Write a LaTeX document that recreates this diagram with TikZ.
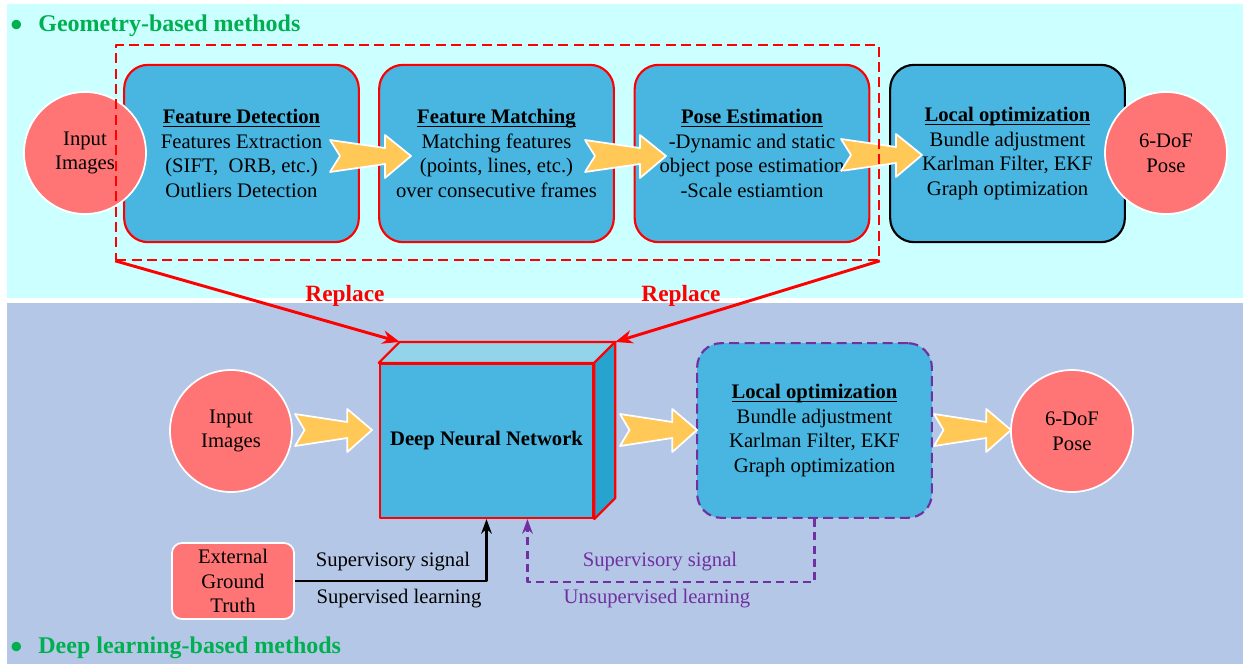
\documentclass[tikz,border=0pt]{standalone}
\usepackage{amsmath}
\usepackage{fontspec}
\setmainfont{Liberation Serif}
\usetikzlibrary{arrows.meta,calc}
\definecolor{bgtop}{RGB}{204,255,255}
\definecolor{bgbot}{RGB}{180,199,231}
\definecolor{boxblue}{RGB}{72,182,224}
\definecolor{salmon}{RGB}{255,117,117}
\definecolor{gold}{RGB}{255,200,87}
\definecolor{titlegreen}{RGB}{0,176,80}
\definecolor{purp}{RGB}{112,48,160}
\definecolor{dnntop}{RGB}{146,213,234}
\definecolor{dnnside}{RGB}{38,163,207}
\begin{document}
\begin{tikzpicture}[x=0.75pt,y=-0.75pt,line join=round,
  font=\fontsize{15.5}{18.4}\selectfont,
  box/.style={draw=red,line width=1.6pt,fill=boxblue,rounded corners=18pt,
    minimum width=176pt,minimum height=133pt,align=center,inner sep=0pt},
  ball/.style={circle,draw=white,line width=1.3pt,fill=salmon,
    minimum size=91.5pt,inner sep=0pt,align=center},
  yarrow/.style={draw=white,line width=1.3pt,fill=gold},
  sectitle/.style={text=titlegreen,font=\fontsize{18}{20}\selectfont\bfseries,
    anchor=base west,inner sep=0pt},
  replace/.style={text=red,font=\fontsize{17.5}{20}\selectfont\bfseries},
  redarrow/.style={red,line width=2.2pt,-{Stealth[length=13pt,width=10pt]}}]
\newcommand{\boxtitle}[1]{\underline{\smash[b]{\textbf{#1}}}}
\newcommand{\bigdot}{\raisebox{-4pt}{\fontsize{26}{20}\selectfont\textbullet}}
\newcommand{\drawarrow}[3]{% tail x, centre y, length
  \begin{scope}[shift={(#1,#2)},xscale=#3/81]
    \draw[yarrow] (0,-16) -- (55,-8) -- (55,-21) -- (81,0) -- (55,22)
      -- (55,8) -- (0,16) -- (10,0) -- cycle;
  \end{scope}}
\useasboundingbox (0,0) rectangle (1243,664);
% Hintergrund
\fill[bgtop] (7,4) rectangle (1243,298);
\fill[bgbot] (7,303) rectangle (1243,664);
\node[sectitle] (geotitle) at (10,31) {\bigdot\hspace{12pt}Geometry-based methods};
\node[sectitle] (dltitle) at (10,653) {\bigdot\hspace{12pt}Deep learning-based methods};
% Obere Reihe
\node[box] (fd) at (241.5,153.5) {\boxtitle{Feature Detection}\\Features Extraction\\(SIFT,\ \ ORB, etc.)\\Outliers Detection};
\node[box] (fm) at (496.5,153.5) {\boxtitle{Feature Matching}\\Matching features\\(points, lines, etc.)\\over consecutive frames};
\node[box] (pe) at (752,153.5) {\boxtitle{Pose Estimation}\\-Dynamic and static\\object pose estimation\\-Scale estiamtion};
\node[box,draw=black] (lo) at (1007.5,153.5) {\boxtitle{Local optimization}\\Bundle adjustment\\Karlman Filter, EKF\\Graph optimization};
\drawarrow{330}{156}{81}
\drawarrow{585}{156}{81}
\drawarrow{841}{155}{81}
\node[ball] (in1) at (85,153) {Input\\Images};
\node[ball] (out1) at (1166,153) {6-DoF\\Pose};
\node[draw=red,line width=1.5pt,dash pattern=on 7.5pt off 4pt,
  minimum width=572pt,minimum height=161pt] (geo) at (497.5,152.5) {};
% Untere Reihe
\node[draw=red,line width=1.6pt,fill=boxblue,minimum width=160pt,minimum height=115.5pt,
  font=\fontsize{15.5}{18.4}\selectfont\bfseries] (dnn) at (486.5,441) {Deep Neural Network};
\coordinate (dnnbl) at ($(dnn.north west)+(21,-21)$);
\coordinate (dnnbr) at ($(dnn.north east)+(21,-21)$);
\coordinate (dnnbs) at ($(dnn.south east)+(21,-21)$);
\coordinate (dnnin) at ($(dnn.south west)!0.69!(dnn.south east)$);
\draw[red,line width=1.6pt,fill=dnntop] (dnn.north west) -- (dnnbl) -- (dnnbr) -- (dnn.north east) -- cycle;
\draw[red,line width=1.6pt,fill=dnnside] (dnn.north east) -- (dnnbr) -- (dnnbs) -- (dnn.south east) -- cycle;
\node[box,draw=purp,dash pattern=on 7.5pt off 4pt,minimum height=131pt] (lo2) at (814.5,430.5)
  {\boxtitle{Local optimization}\\Bundle adjustment\\Karlman Filter, EKF\\Graph optimization};
\node[ball] (in2) at (231,431) {Input\\Images};
\node[ball] (out2) at (1072,431) {6-DoF\\Pose};
\drawarrow{295}{430}{77}
\drawarrow{620}{430}{77}
\drawarrow{934}{430}{77}
% Replace
\draw[redarrow] (geo.south west) -- (dnnbl);
\draw[redarrow] (geo.south east) -- (dnnbr);
\node[replace] (rep1) at (345,296) {Replace};
\node[replace] (rep2) at (681,296) {Replace};
% Supervision
\node[draw=white,line width=1.3pt,fill=salmon,rounded corners=7.5pt,minimum width=91.5pt,
  minimum height=57pt,inner sep=0pt,align=center] (egt) at (233,581) {External\\Ground\\Truth};
\draw[line width=1.6pt,-{Stealth[length=11pt,width=8pt]}] (egt.east) -| (dnn.south);
\draw[purp,line width=1.6pt,dash pattern=on 6pt off 4pt,-{Stealth[length=11pt,width=8pt]}]
  (lo2.south) -- ++(0,63) -| (dnnin);
\node (sup1) at (393,562) {Supervisory signal};
\node (sup2) at (399,599) {Supervised learning};
\node[text=purp] (uns1) at (660,562) {Supervisory signal};
\node[text=purp] (uns2) at (657,599) {Unsupervised learning};
\end{tikzpicture}
\end{document}
